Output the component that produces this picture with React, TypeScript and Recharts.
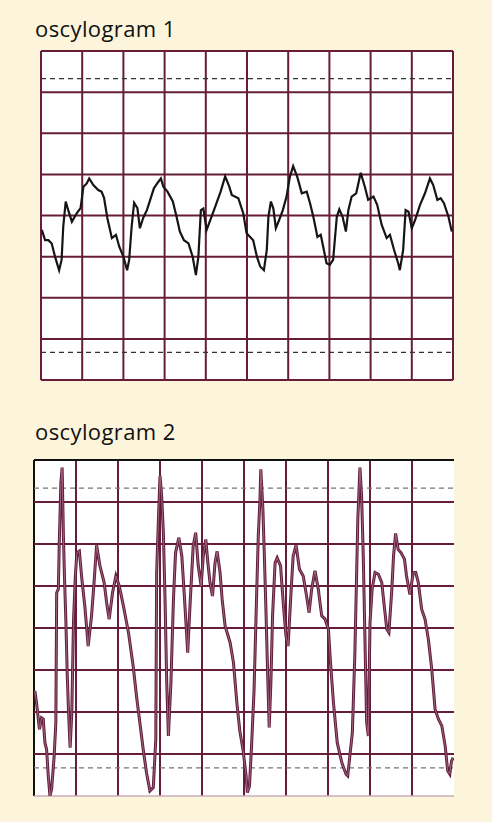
import React from "react";
import { LineChart, Line, XAxis, YAxis, ReferenceLine, ReferenceArea } from "recharts";

// ---- oscylogram 1 (time in grid divisions, amplitude in grid divisions) ----
const t1 = [0.02,0.1,0.18,0.26,0.34,0.44,0.5,0.54,0.6,0.66,0.75,0.87,0.96,1.03,1.11,1.17,1.27,1.39,1.47,1.53,1.61,1.72,1.82,1.9,2.0,2.09,2.14,2.2,2.26,2.34,2.4,2.48,2.57,2.65,2.74,2.82,2.91,2.97,3.07,3.2,3.29,3.37,3.47,3.58,3.68,3.76,3.82,3.88,3.94,4.02,4.14,4.26,4.36,4.47,4.57,4.63,4.79,4.91,4.99,5.15,5.24,5.32,5.41,5.48,5.52,5.58,5.64,5.7,5.78,5.87,5.96,6.04,6.12,6.22,6.33,6.45,6.53,6.61,6.71,6.79,6.85,6.93,7.01,7.09,7.18,7.24,7.32,7.4,7.46,7.54,7.65,7.76,7.86,7.94,8.07,8.16,8.27,8.39,8.47,8.57,8.67,8.71,8.79,8.85,8.92,9.0,9.08,9.2,9.32,9.44,9.52,9.62,9.7,9.78,9.89,9.97];
const v1 = [3.65,3.4,3.4,3.32,3.0,2.67,2.92,3.73,4.34,4.13,3.85,4.06,4.18,4.7,4.78,4.9,4.74,4.62,4.58,4.43,3.94,3.45,3.53,3.24,3.0,2.67,2.92,3.73,4.31,4.18,3.69,3.94,4.13,4.38,4.66,4.78,4.9,4.7,4.58,4.34,3.97,3.61,3.4,3.32,3.0,2.55,3.0,4.13,4.17,3.65,3.97,4.3,4.58,4.95,4.7,4.5,4.42,4.05,3.57,3.4,3.0,2.76,2.67,3.16,3.97,4.34,4.17,3.69,3.89,4.13,4.46,4.94,5.2,4.94,4.54,4.58,4.3,3.97,3.48,3.53,3.24,2.84,2.8,2.92,3.97,4.15,3.97,3.61,4.13,4.46,4.54,5.04,4.7,4.38,4.46,4.26,3.77,3.45,3.53,3.16,2.84,2.67,3.16,4.13,4.09,3.69,3.89,4.26,4.54,4.9,4.74,4.38,4.42,4.3,3.97,3.61];

// ---- oscylogram 2 ----
const t2 = [0.02,0.06,0.13,0.18,0.22,0.26,0.3,0.34,0.38,0.42,0.48,0.52,0.54,0.58,0.6,0.64,0.67,0.7,0.73,0.76,0.79,0.82,0.86,0.9,0.94,0.98,1.02,1.08,1.14,1.21,1.29,1.37,1.43,1.49,1.57,1.67,1.73,1.79,1.87,1.95,2.03,2.13,2.25,2.36,2.45,2.52,2.6,2.68,2.76,2.84,2.9,2.92,2.96,3.0,3.04,3.08,3.12,3.16,3.2,3.26,3.32,3.37,3.45,3.52,3.58,3.66,3.71,3.79,3.85,3.91,3.98,4.03,4.09,4.14,4.19,4.25,4.31,4.36,4.43,4.48,4.55,4.67,4.75,4.83,4.9,4.98,5.05,5.08,5.13,5.18,5.24,5.3,5.34,5.38,5.4,5.45,5.48,5.52,5.56,5.6,5.64,5.68,5.74,5.79,5.87,5.94,6.0,6.05,6.11,6.17,6.24,6.32,6.41,6.49,6.55,6.61,6.69,6.77,6.85,6.93,7.01,7.06,7.13,7.22,7.33,7.43,7.47,7.52,7.58,7.64,7.71,7.76,7.8,7.84,7.88,7.92,7.96,8.0,8.05,8.12,8.2,8.28,8.34,8.4,8.45,8.52,8.56,8.61,8.67,8.74,8.82,8.87,8.95,9.03,9.09,9.15,9.23,9.31,9.39,9.47,9.55,9.63,9.71,9.79,9.85,9.9,9.94,9.98];
const v2 = [2.5,2.22,1.59,1.86,1.83,1.27,1.11,0.48,0.0,0.17,0.95,1.75,4.84,4.93,5.95,7.46,7.82,6.19,5.08,4.13,2.94,2.06,1.15,1.98,4.13,5.16,5.79,5.83,5.16,4.52,3.57,4.29,5.08,5.97,5.48,5.08,4.6,4.21,4.84,5.24,5.0,4.52,3.89,3.1,2.3,1.75,1.11,0.55,0.12,0.2,1.35,5.32,6.51,7.62,7.14,6.27,4.68,2.7,1.43,2.7,4.68,5.79,6.15,5.71,4.76,3.41,4.45,5.95,6.27,5.48,5.0,5.71,6.11,5.55,5.08,4.76,5.55,5.83,5.32,4.68,4.05,3.65,3.17,2.22,1.55,1.08,0.48,0.08,0.24,1.19,2.54,4.76,6.19,7.06,7.78,6.83,5.87,4.52,3.02,1.63,2.7,4.29,5.55,5.67,5.48,4.52,3.81,3.57,4.68,5.71,5.97,5.4,5.24,4.76,4.36,4.92,5.36,4.92,4.29,4.21,3.97,3.17,2.22,1.27,0.79,0.52,0.48,0.95,1.51,3.41,6.59,7.82,7.14,5.71,3.73,1.75,1.43,4.13,4.92,5.32,5.28,5.08,4.52,3.97,3.89,4.92,5.71,6.25,5.87,5.79,5.64,5.24,4.8,5.32,5.32,5.08,4.45,4.21,3.73,3.02,2.06,1.83,1.67,1.19,0.6,0.52,0.83,0.91];

const gridX = [0, 1, 2, 3, 4, 5, 6, 7, 8, 9, 10];
const gridY = [0, 1, 2, 3, 4, 5, 6, 7, 8];
const dashY = [0.67, 7.33];
const titles = ["oscylogram 1", "oscylogram 2"];

const data1 = t1.map((t, i) => ({ t, v: v1[i] }));
const data2 = t2.map((t, i) => ({ t, v: v2[i] }));

const BG = "#FCF5DB";
const GRID = "#671C3A";

function Scope({ data, top, height, margin, panel }: any) {
  return (
    <div style={{ position: "absolute", left: 0, top }}>
      <LineChart width={492} height={height} data={data} margin={margin}>
        <XAxis dataKey="t" type="number" domain={[0, 10]} hide allowDataOverflow />
        <YAxis type="number" domain={[0, 8]} hide allowDataOverflow />
        <ReferenceArea x1={0} x2={10} y1={0} y2={8} fill="#FFFFFF" fillOpacity={1} stroke="none" />
        {gridX.map((x) => {
          let stroke = GRID;
          if (panel === 2 && x === 0) { stroke = "#111"; }
          if (panel === 2 && x === 10) { return null; }
          return <ReferenceLine key={"x" + x} x={x} stroke={stroke} strokeWidth={2} ifOverflow="visible" />;
        })}
        {gridY.map((y) => {
          let stroke = GRID;
          let w = 2;
          if (panel === 2 && y === 8) { stroke = "#111"; }
          if (panel === 2 && y === 0) { stroke = "#C9AEB6"; w = 1.5; }
          return <ReferenceLine key={"y" + y} y={y} stroke={stroke} strokeWidth={w} ifOverflow="visible" />;
        })}
        {dashY.map((y) => (
          <ReferenceLine key={"d" + y} y={y} stroke={panel === 1 ? "#333" : "#777"} strokeWidth={1.2} strokeDasharray="5 4" ifOverflow="visible" />
        ))}
        {panel === 1 ? (
          <Line dataKey="v" type="linear" stroke="#151515" strokeWidth={2.2} dot={false} isAnimationActive={false} />
        ) : (
          <Line dataKey="v" type="linear" stroke="#5E1D3A" strokeWidth={3} dot={false} isAnimationActive={false} />
        )}
        {panel === 2 ? (
          <Line dataKey="v" type="linear" stroke="#A86A85" strokeWidth={0.9} dot={false} isAnimationActive={false} />
        ) : null}
      </LineChart>
    </div>
  );
}

export default function App() {
  return (
    <div style={{ position: "absolute", left: 0, top: 0, width: 492, height: 822, background: BG, overflow: "hidden" }}>
      <svg width={492} height={822} style={{ position: "absolute", left: 0, top: 0 }}>
        <text x={35} y={37} fontFamily="'Open Sans', sans-serif" fontSize={22} letterSpacing={0.4} fill="#111">{titles[0]}</text>
        <text x={35} y={440} fontFamily="'Open Sans', sans-serif" fontSize={22} letterSpacing={0.4} fill="#111">{titles[1]}</text>
      </svg>
      <Scope data={data1} top={0} height={400} margin={{ top: 51, left: 41, right: 39, bottom: 20 }} panel={1} />
      <Scope data={data2} top={420} height={400} margin={{ top: 40, left: 34, right: 38, bottom: 24 }} panel={2} />
    </div>
  );
}
